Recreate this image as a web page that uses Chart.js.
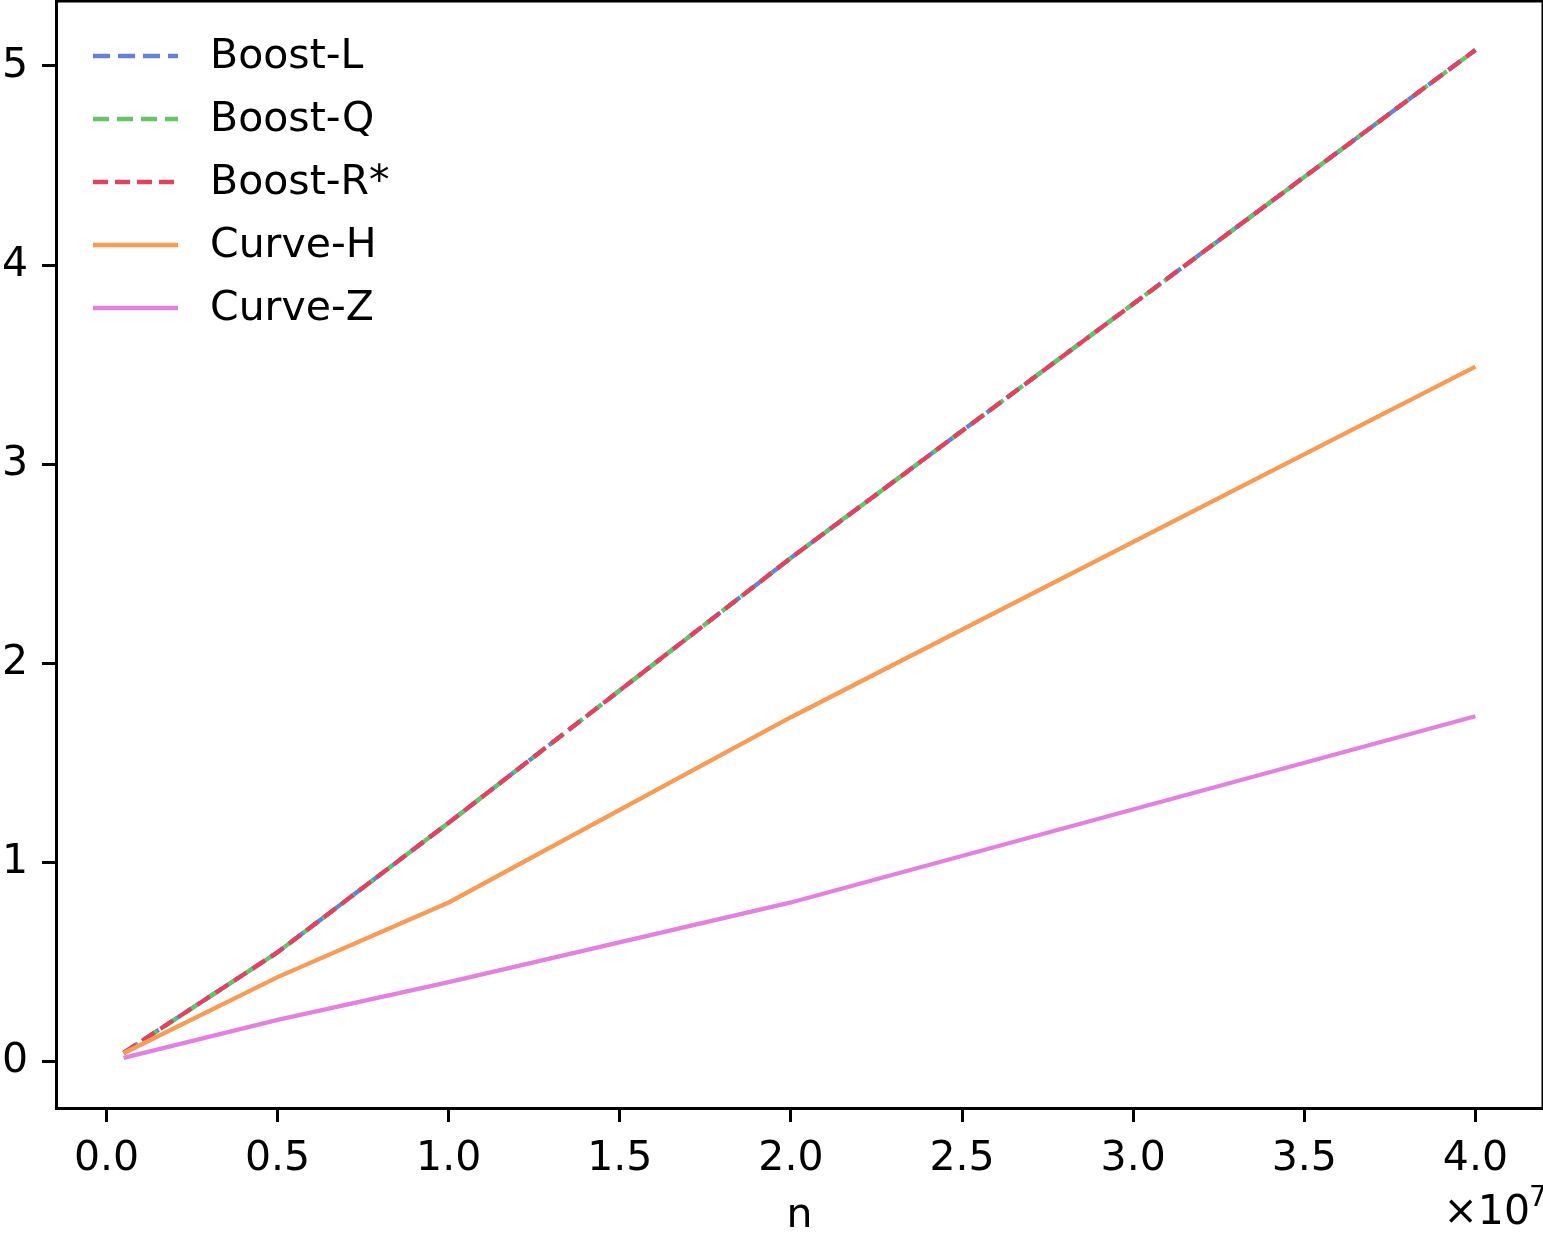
<!DOCTYPE html>
<html>
<head>
<meta charset="utf-8">
<script src="https://cdn.jsdelivr.net/npm/chart.js@4.4.1/dist/chart.umd.min.js"></script>
<style>
  body { margin: 0; background: #fff; }
  canvas { display: block; }
</style>
</head>
<body>
<canvas id="chart" width="1543" height="1238"></canvas>
<script>
// problem sizes n
const n_values = [500000, 5000000, 10000000, 20000000, 40000000]

const boost_l = [0.045, 0.55, 1.20, 2.53, 5.08]
const boost_q = [0.045, 0.55, 1.20, 2.53, 5.08]
const boost_r = [0.045, 0.55, 1.20, 2.53, 5.08]
const curve_h = [0.043, 0.425, 0.80, 1.73, 3.49]
const curve_z = [0.02, 0.21, 0.40, 0.80, 1.735]

const x_ticks = [0, 5000000, 10000000, 15000000, 20000000, 25000000, 30000000, 35000000, 40000000]
const y_ticks = [0, 1, 2, 3, 4, 5]

const FONT = 'DejaVu Sans'

const pts = ys => n_values.map((x, i) => ({ x: x, y: ys[i] }))

const series = [
  { label: 'Boost-L', data: boost_l, color: '#6580dd', dash: [17, 8] },
  { label: 'Boost-Q', data: boost_q, color: '#64c466', dash: [16, 8] },
  { label: 'Boost-R*', data: boost_r, color: '#e2415f', dash: [15, 7] },
  { label: 'Curve-H', data: curve_h, color: '#f99b55', dash: [] },
  { label: 'Curve-Z', data: curve_z, color: '#e480e0', dash: [] },
]

// legend drawn inside the plot, top left, like the original
const innerLegend = {
  id: 'innerLegend',
  afterDatasetsDraw(chart) {
    const ctx = chart.ctx
    const area = chart.chartArea
    ctx.save()
    chart.data.datasets.forEach((ds, i) => {
      const y = area.top + 55 + i * 63
      ctx.beginPath()
      ctx.setLineDash(ds.borderDash || [])
      ctx.strokeStyle = ds.borderColor
      ctx.lineWidth = ds.borderWidth
      ctx.moveTo(area.left + 37, y)
      ctx.lineTo(area.left + 122, y)
      ctx.stroke()
      ctx.setLineDash([])
      ctx.fillStyle = '#000'
      ctx.font = '41px "' + FONT + '"'
      ctx.textBaseline = 'middle'
      ctx.textAlign = 'left'
      ctx.fillText(ds.label, area.left + 154, y + 1)
    })
    ctx.restore()
  },
  afterDraw(chart) {
    const ctx = chart.ctx
    const area = chart.chartArea
    ctx.save()
    // top and right spines
    ctx.strokeStyle = '#000'
    ctx.lineWidth = 3
    ctx.beginPath()
    ctx.moveTo(area.left, area.top)
    ctx.lineTo(area.right, area.top)
    ctx.lineTo(area.right, area.bottom)
    ctx.stroke()
    // offset text x10^7
    ctx.fillStyle = '#000'
    ctx.textBaseline = 'alphabetic'
    ctx.textAlign = 'right'
    ctx.font = '41px "' + FONT + '"'
    ctx.fillText('\u00d710', 1530, 1224)
    ctx.textAlign = 'left'
    ctx.font = '28px "' + FONT + '"'
    ctx.fillText('7', 1529, 1206)
    ctx.restore()
  }
}

new Chart(document.getElementById('chart'), {
  type: 'line',
  data: {
    datasets: series.map((s, i) => ({
      label: s.label,
      data: pts(s.data),
      borderColor: s.color,
      backgroundColor: s.color,
      borderWidth: 4.3,
      borderDash: s.dash,
      pointRadius: 0,
      tension: 0,
      fill: false,
      order: series.length - i,
    }))
  },
  options: {
    responsive: false,
    animation: false,
    devicePixelRatio: 1,
    layout: { padding: { top: 1, right: 0, left: 0, bottom: 0 } },
    plugins: {
      legend: { display: false },
      tooltip: { enabled: false },
    },
    scales: {
      x: {
        type: 'linear',
        min: -1475000,
        max: 41975000,
        afterBuildTicks: scale => { scale.ticks = x_ticks.map(v => ({ value: v })) },
        afterFit: scale => {
          scale.height = 130
          scale.paddingLeft = 0
          scale.paddingRight = 0
        },
        ticks: {
          color: '#000',
          padding: 13,
          maxRotation: 0,
          font: { family: FONT, size: 41 },
          callback: v => (v / 1e7).toFixed(1),
        },
        grid: { drawOnChartArea: false, drawTicks: true, tickLength: 14, tickWidth: 3, tickColor: '#000' },
        border: { display: true, color: '#000', width: 3 },
        title: {
          display: true,
          text: 'n',
          color: '#000',
          font: { family: FONT, size: 41 },
          padding: { top: 0, bottom: -3 },
        },
      },
      y: {
        type: 'linear',
        min: -0.232,
        max: 5.326,
        afterBuildTicks: scale => { scale.ticks = y_ticks.map(v => ({ value: v })) },
        afterFit: scale => {
          scale.width = 56
          scale.paddingTop = 0
          scale.paddingBottom = 0
        },
        ticks: {
          color: '#000',
          padding: 14,
          font: { family: FONT, size: 41 },
          callback: v => String(v),
        },
        grid: { drawOnChartArea: false, drawTicks: true, tickLength: 14, tickWidth: 3, tickColor: '#000' },
        border: { display: true, color: '#000', width: 3 },
      },
    },
  },
  plugins: [innerLegend],
})
</script>
</body>
</html>
